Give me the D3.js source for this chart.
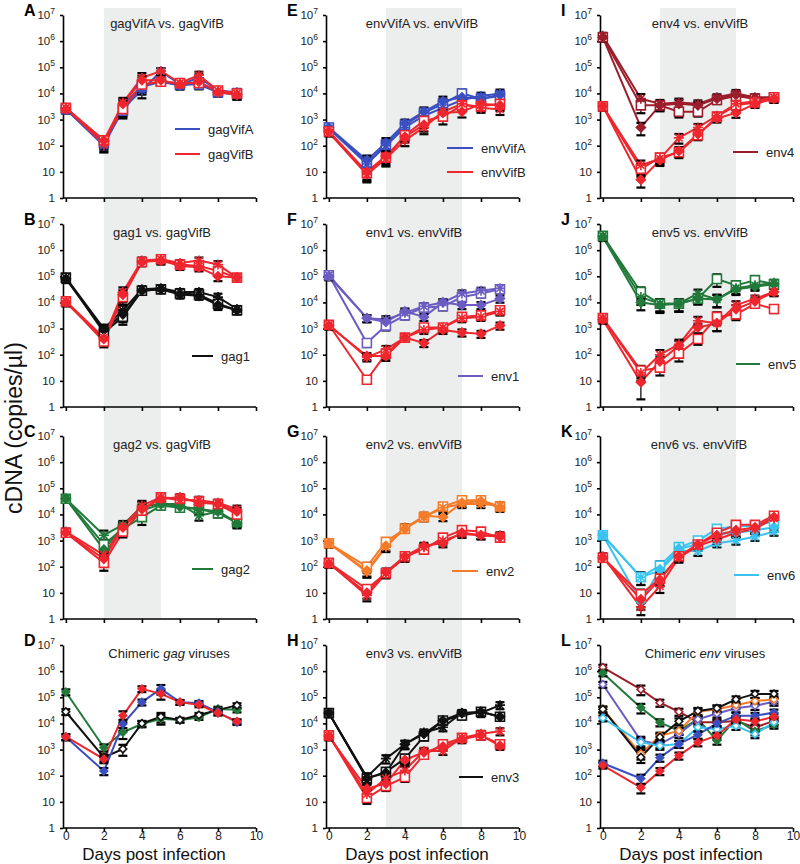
<!DOCTYPE html>
<html><head><meta charset="utf-8">
<script src="https://cdn.jsdelivr.net/npm/d3@7"></script>
<style>body{margin:0;background:#fff} svg{display:block;font-family:"Liberation Sans",Arial,sans-serif}</style>
</head><body><svg id="chart" width="800" height="864"></svg>
<script>
// ---------------- DATA ----------------
const days = [0, 2, 3, 4, 5, 6, 7, 8, 9];
const xTickValues = [0, 2, 4, 6, 8, 10];
const yTickValues = [1, 10, 1e2, 1e3, 1e4, 1e5, 1e6, 1e7];
const shadeStart = [2, 3, 3];
const shadeEnd = [5, 7, 7];
const yAxisTitle = "cDNA (copies/µl)";
const xAxisTitle = "Days post infection";

// replicate order in each group: [square, asterisk, diamond]
// Panel A
const aGagVifA = [
  [2.5e3, 1.3e2, 2.2e3, 1.8e4, 2.8e4, 2.2e4, 2.2e4, 1.1e4, 1.0e4],
  [2.5e3, 1.0e2, 2.8e3, 1.3e4, 7.1e4, 2.2e4, 4.0e4, 1.3e4, 1.1e4],
  [2.8e3, 1.4e2, 3.5e3, 2.0e4, 2.8e4, 2.0e4, 2.5e4, 1.1e4, 8.9e3]];
const aGagVifB = [
  [2.8e3, 1.6e2, 2.5e3, 2.2e4, 2.8e4, 2.5e4, 2.5e4, 1.3e4, 1.0e4],
  [2.8e3, 1.1e2, 4.5e3, 4.0e4, 7.1e4, 2.5e4, 5.0e4, 1.3e4, 1.0e4],
  [2.5e3, 1.6e2, 4.0e3, 3.2e4, 3.2e4, 2.2e4, 2.8e4, 1.1e4, 8.9e3]];
const aErr = [0.3, 0.45, 0.5, 0.5, 0.3, 0.3, 0.35, 0.3, 0.35];
// Panel B
const bGag1 = [
  [8.9e4, 7.1e2, 2.8e3, 2.8e4, 3.2e4, 2.2e4, 2.0e4, 8.9e3, 5.0e3],
  [8.9e4, 1.0e3, 5.0e3, 3.2e4, 3.5e4, 2.5e4, 2.5e4, 1.6e4, 5.6e3],
  [7.9e4, 8.9e2, 3.5e3, 2.8e4, 3.2e4, 2.0e4, 1.8e4, 7.9e3, 5.0e3]];
const bGagVifB = [
  [1.1e4, 3.2e2, 1.6e4, 3.5e5, 4.5e5, 2.8e5, 2.5e5, 1.6e5, 8.9e4],
  [1.1e4, 4.5e2, 2.5e4, 4.0e5, 4.5e5, 3.2e5, 4.0e5, 2.8e5, 8.9e4],
  [1.0e4, 4.0e2, 2.0e4, 3.5e5, 4.0e5, 2.5e5, 2.2e5, 1.0e5, 8.9e4]];
const bErr = [0.3, 0.4, 0.5, 0.3, 0.3, 0.3, 0.3, 0.35, 0.3];
// Panel C
const cGag2 = [
  [4.0e4, 7.1e2, 2.8e3, 7.9e3, 2.2e4, 1.8e4, 1.6e4, 1.1e4, 5.0e3],
  [4.0e4, 1.6e3, 4.0e3, 2.0e4, 2.5e4, 2.5e4, 8.9e3, 1.3e4, 5.0e3],
  [4.0e4, 4.5e2, 3.5e3, 1.4e4, 2.5e4, 2.0e4, 1.6e4, 1.3e4, 4.5e3]];
const cGagVifB = [
  [2.0e3, 1.4e2, 2.2e3, 1.4e4, 4.5e4, 4.0e4, 3.2e4, 2.5e4, 1.0e4],
  [2.2e3, 2.8e2, 3.5e3, 2.2e4, 4.5e4, 3.5e4, 3.5e4, 2.8e4, 1.6e4],
  [2.0e3, 2.0e2, 3.2e3, 1.6e4, 4.0e4, 4.5e4, 2.8e4, 2.5e4, 1.3e4]];
const cErr = [0.3, 0.5, 0.4, 0.5, 0.3, 0.3, 0.35, 0.3, 0.35];
// Panel D
const dGagVifA = [3.0e3, 1.5e2, 9.5e3, 6.5e4, 2.1e5, 6.5e4, 6.0e4, 2.7e4, 1.1e4];
const dGagVifB = [3.1e3, 4.3e2, 2.0e4, 2.1e5, 1.35e5, 6.5e4, 5.2e4, 2.5e4, 1.2e4];
const dGag1 = [2.8e4, 5.0e2, 1.05e3, 1.0e4, 1.8e4, 1.35e4, 2.1e4, 3.3e4, 4.9e4];
const dGag2 = [1.6e5, 1.2e3, 4.6e3, 9.5e3, 1.5e4, 1.35e4, 1.7e4, 3.6e4, 3.3e4];
const dErr = [0.25, 0.3, 0.45, 0.25, 0.4, 0.2, 0.2, 0.2, 0.2];
// Panel E
const eEnvVifA = [
  [5.0e2, 22, 1.1e2, 6.3e2, 1.8e3, 4.0e3, 1.0e4, 6.3e3, 7.9e3],
  [4.5e2, 20, 1.0e2, 5.0e2, 1.4e3, 2.8e3, 5.6e3, 7.9e3, 1.0e4],
  [5.0e2, 28, 1.3e2, 7.1e2, 2.0e3, 5.0e3, 7.1e3, 6.3e3, 8.9e3]];
const eEnvVifB = [
  [3.5e2, 8.9, 35, 2.5e2, 8.9e2, 1.3e3, 3.5e3, 3.2e3, 4.0e3],
  [3.2e2, 7.9, 32, 1.6e2, 5.0e2, 2.0e3, 4.0e3, 2.8e3, 2.5e3],
  [3.5e2, 10, 40, 2.2e2, 6.3e2, 1.8e3, 2.0e3, 4.0e3, 3.5e3]];
const eErr = [0.3, 0.5, 0.5, 0.4, 0.45, 0.5, 0.4, 0.35, 0.4];
// Panel F
const fEnv1 = [
  [1.1e5, 2.8e2, 1.3e3, 3.2e3, 6.3e3, 7.1e3, 1.6e4, 2.2e4, 3.2e4],
  [1.1e5, 2.5e3, 2.2e3, 4.0e3, 7.1e3, 1.0e4, 2.2e4, 2.8e4, 3.5e4],
  [1.0e5, 2.5e3, 1.8e3, 4.5e3, 2.8e3, 1.0e4, 7.9e3, 7.9e3, 1.4e4]];
const fEnvVifB = [
  [1.4e3, 11, 1.1e2, 4.5e2, 1.1e3, 1.1e3, 2.8e3, 3.2e3, 5.0e3],
  [1.4e3, 79, 1.6e2, 4.5e2, 8.9e2, 1.1e3, 2.5e3, 2.8e3, 4.5e3],
  [1.3e3, 89, 89, 4.5e2, 2.8e2, 8.9e2, 7.1e2, 6.3e2, 1.3e3]];
const fErr = [0.3, 0.3, 0.35, 0.3, 0.3, 0.3, 0.3, 0.3, 0.3];
// Panel G
const gEnv2 = [
  [7.9e2, 1.0e2, 8.9e2, 2.8e3, 7.9e3, 2.0e4, 3.5e4, 3.5e4, 2.0e4],
  [7.9e2, 63, 5.6e2, 3.2e3, 7.9e3, 1.8e4, 2.5e4, 2.5e4, 2.2e4],
  [7.9e2, 71, 6.3e2, 2.8e3, 8.9e3, 7.9e3, 2.8e4, 3.2e4, 1.8e4]];
const gEnvVifB = [
  [1.4e2, 14, 56, 2.5e2, 4.5e2, 1.3e3, 2.5e3, 2.2e3, 1.3e3],
  [1.4e2, 7.9, 56, 2.2e2, 5.6e2, 1.0e3, 1.8e3, 1.6e3, 1.6e3],
  [1.3e2, 10, 63, 2.5e2, 6.3e2, 7.9e2, 2.0e3, 1.6e3, 1.4e3]];
const gErr = [0.3, 0.4, 0.35, 0.3, 0.3, 0.3, 0.3, 0.3, 0.3];
// Panel H
const hEnv3 = [
  [2.5e4, 79, 1.4e2, 4.5e2, 3.2e3, 1.3e4, 2.0e4, 2.8e4, 1.8e4],
  [2.5e4, 89, 4.5e2, 1.6e3, 4.5e3, 7.1e3, 2.5e4, 2.5e4, 5.0e4],
  [2.5e4, 79, 1.3e2, 1.6e3, 4.0e3, 1.3e4, 2.5e4, 2.8e4, 1.8e4]];
const hEnvVifB = [
  [3.5e3, 14, 40, 89, 6.3e2, 1.6e3, 2.8e3, 3.5e3, 1.6e3],
  [3.5e3, 20, 79, 1.6e2, 8.9e2, 8.9e2, 2.8e3, 4.0e3, 5.0e3],
  [3.2e3, 32, 50, 4.0e2, 7.9e2, 1.3e3, 2.5e3, 3.5e3, 1.4e3]];
const hErr = [0.3, 0.4, 0.35, 0.35, 0.3, 0.3, 0.3, 0.3, 0.3];
// Panel I
const iEnv4 = [
  [1.4e6, 3.5e3, 3.5e3, 2.0e3, 2.0e3, 5.6e3, 7.9e3, 6.3e3, 7.1e3],
  [1.6e6, 6.3e3, 4.0e3, 4.5e3, 4.0e3, 7.1e3, 1.0e4, 7.1e3, 7.1e3],
  [1.4e6, 5.0e2, 3.5e3, 4.0e3, 3.5e3, 6.3e3, 8.9e3, 6.3e3, 6.3e3]];
const iEnvVifB = [
  [3.2e3, 13, 35, 56, 2.5e2, 1.3e3, 3.5e3, 4.5e3, 7.1e3],
  [3.2e3, 18, 32, 2.0e2, 5.0e2, 1.4e3, 4.0e3, 5.0e3, 7.1e3],
  [3.2e3, 5.0, 28, 63, 2.8e2, 1.1e3, 1.8e3, 4.0e3, 6.3e3]];
const iErr = [0.3, 0.5, 0.4, 0.4, 0.35, 0.3, 0.35, 0.3, 0.3];
// Panel J
const jEnv5 = [
  [3.5e6, 2.5e4, 8.9e3, 8.9e3, 1.4e4, 7.9e4, 4.5e4, 7.1e4, 5.0e4],
  [3.5e6, 1.6e4, 8.9e3, 8.9e3, 2.2e4, 1.3e4, 3.5e4, 4.5e4, 5.6e4],
  [3.2e6, 1.0e4, 7.9e3, 8.9e3, 1.4e4, 1.3e4, 3.2e4, 4.0e4, 5.0e4]];
const jEnvVifB = [
  [2.5e3, 25, 32, 1.1e2, 4.0e2, 2.8e3, 3.5e3, 8.9e3, 5.6e3],
  [2.5e3, 20, 1.0e2, 2.5e2, 2.0e3, 1.6e3, 7.9e3, 1.4e4, 2.5e4],
  [2.2e3, 8.9, 56, 2.2e2, 1.1e3, 1.6e3, 5.6e3, 1.1e4, 2.5e4]];
const jErr = [0.3, 0.5, 0.5, 0.5, 0.4, 0.5, 0.4, 0.3, 0.3];
const jEnvVifBDiamondErr = [0.3, 0.78, 0.5, 0.5, 0.4, 0.5, 0.4, 0.3, 0.3];
// Panel K
const kEnv6 = [
  [1.6e3, 40, 1.1e2, 5.6e2, 1.0e3, 2.8e3, 3.5e3, 3.5e3, 5.6e3],
  [1.6e3, 40, 71, 4.0e2, 4.0e2, 7.9e2, 1.0e3, 1.4e3, 2.2e3],
  [1.6e3, 4.5, 79, 5.0e2, 7.1e2, 1.8e3, 2.0e3, 2.5e3, 3.2e3]];
const kEnvVifB = [
  [2.2e2, 8.9, 35, 2.5e2, 7.1e2, 2.0e3, 4.0e3, 4.0e3, 8.9e3],
  [2.5e2, 2.8, 18, 2.2e2, 6.3e2, 1.1e3, 2.0e3, 2.8e3, 7.1e3],
  [2.2e2, 5.6, 32, 2.5e2, 7.1e2, 1.6e3, 2.5e3, 3.2e3, 7.9e3]];
const kErr = [0.3, 0.5, 0.45, 0.35, 0.35, 0.3, 0.3, 0.3, 0.3];
// Panel L
const lEnv4 = [1.4e6, 2.0e5, 6.2e4, 2.8e4, 1.1e4, 1.1e4, 1.25e4, 7.0e3, 1.25e4];
const lEnv5 = [8.5e5, 4.0e4, 1.1e4, 5.2e3, 1.45e4, 2.2e3, 1.45e4, 5.0e3, 9.0e3];
const lEnv1 = [3.1e5, 2.2e3, 1.6e3, 4.0e3, 1.45e4, 2.4e4, 3.8e4, 4.7e4, 6.8e4];
const lEnv2 = [3.5e4, 6.9e2, 3.4e3, 5.2e3, 2.8e4, 3.5e4, 5.0e4, 7.2e4, 8.3e4];
const lEnv3 = [3.5e4, 5.1e2, 3.0e3, 1.2e4, 3.0e4, 3.8e4, 8.3e4, 1.35e5, 1.35e5];
const lEnv6 = [1.6e4, 1.9e3, 1.4e3, 1.65e3, 7.1e3, 6.0e3, 8.1e3, 3.9e3, 1.1e4];
const lEnvVifA = [3.0e2, 78, 4.9e2, 1.65e3, 3.7e3, 1.0e4, 1.95e4, 1.95e4, 2.6e4];
const lEnvVifB = [2.5e2, 35, 1.5e2, 5.9e2, 1.9e3, 3.4e3, 1.45e4, 1.2e4, 1.8e4];
const lErr = [0.25, 0.4, 0.3, 0.3, 0.3, 0.3, 0.3, 0.3, 0.3];

// ---------------- STYLE / LAYOUT ----------------
const cBlue = "#3a4fc0", cRed = "#ee262d", cBlack = "#111111", cGreen = "#217a3a",
      cPurple = "#6a5cc2", cOrange = "#f47b2a", cDarkRed = "#9c1e2c", cCyan = "#38c3f0";
const colX = [63, 326, 600];
const rowY = [15, 224, 436, 645];
const plotW = 193, plotH = 183;
const repShapes = ["square", "star", "diamond"];

const panels = [
  {letter:"A", col:0, row:0, title:[{t:"gagVifA vs. gagVifB"}], tdx:104,
   groups:[{color:cBlue, reps:aGagVifA}, {color:cRed, reps:aGagVifB}], err:aErr,
   legend:{dx:112, len:25, items:[{label:"gagVifA", color:cBlue, dy:114}, {label:"gagVifB", color:cRed, dy:139}]}},
  {letter:"B", col:0, row:1, title:[{t:"gag1 vs. gagVifB"}], tdx:99,
   groups:[{color:cBlack, reps:bGag1}, {color:cRed, reps:bGagVifB}], err:bErr,
   legend:{dx:129, len:21, items:[{label:"gag1", color:cBlack, dy:132}]}},
  {letter:"C", col:0, row:2, title:[{t:"gag2 vs. gagVifB"}], tdx:99,
   groups:[{color:cGreen, reps:cGag2}, {color:cRed, reps:cGagVifB}], err:cErr,
   legend:{dx:129, len:21, items:[{label:"gag2", color:cGreen, dy:133}]}},
  {letter:"D", col:0, row:3, title:[{t:"Chimeric "}, {t:"gag", i:true}, {t:" viruses"}], tdx:106,
   groups:[{color:cGreen, reps:[dGag2], single:true, open:false},
           {color:cBlack, reps:[dGag1], single:true, open:true},
           {color:cBlue, reps:[dGagVifA], single:true, open:false},
           {color:cRed, reps:[dGagVifB], single:true, open:false}], err:dErr},
  {letter:"E", col:1, row:0, title:[{t:"envVifA vs. envVifB"}], tdx:96,
   groups:[{color:cBlue, reps:eEnvVifA}, {color:cRed, reps:eEnvVifB}], err:eErr,
   legend:{dx:121, len:26, items:[{label:"envVifA", color:cBlue, dy:133}, {label:"envVifB", color:cRed, dy:157}]}},
  {letter:"F", col:1, row:1, title:[{t:"env1 vs. envVifB"}], tdx:88,
   groups:[{color:cPurple, reps:fEnv1}, {color:cRed, reps:fEnvVifB}], err:fErr,
   legend:{dx:132, len:25, items:[{label:"env1", color:cPurple, dy:152}]}},
  {letter:"G", col:1, row:2, title:[{t:"env2 vs. envVifB"}], tdx:88,
   groups:[{color:cOrange, reps:gEnv2}, {color:cRed, reps:gEnvVifB}], err:gErr,
   legend:{dx:126, len:26, items:[{label:"env2", color:cOrange, dy:135}]}},
  {letter:"H", col:1, row:3, title:[{t:"env3 vs. envVifB"}], tdx:88,
   groups:[{color:cBlack, reps:hEnv3}, {color:cRed, reps:hEnvVifB}], err:hErr,
   legend:{dx:133, len:24, items:[{label:"env3", color:cBlack, dy:132}]}},
  {letter:"I", col:2, row:0, title:[{t:"env4 vs. envVifB"}], tdx:100,
   groups:[{color:cDarkRed, reps:iEnv4}, {color:cRed, reps:iEnvVifB}], err:iErr,
   legend:{dx:133, len:25, items:[{label:"env4", color:cDarkRed, dy:137}]}},
  {letter:"J", col:2, row:1, title:[{t:"env5 vs. envVifB"}], tdx:100,
   groups:[{color:cGreen, reps:jEnv5}, {color:cRed, reps:jEnvVifB, errOverride:{2:jEnvVifBDiamondErr}}], err:jErr,
   legend:{dx:136, len:24, items:[{label:"env5", color:cGreen, dy:140}]}},
  {letter:"K", col:2, row:2, title:[{t:"env6 vs. envVifB"}], tdx:99,
   groups:[{color:cCyan, reps:kEnv6}, {color:cRed, reps:kEnvVifB}], err:kErr,
   legend:{dx:134, len:25, items:[{label:"env6", color:cCyan, dy:139}]}},
  {letter:"L", col:2, row:3, title:[{t:"Chimeric "}, {t:"env", i:true}, {t:" viruses"}], tdx:105,
   groups:[{color:cDarkRed, reps:[lEnv4], single:true, open:true},
           {color:cGreen, reps:[lEnv5], single:true, open:false},
           {color:cPurple, reps:[lEnv1], single:true, open:true},
           {color:cOrange, reps:[lEnv2], single:true, open:true},
           {color:cBlack, reps:[lEnv3], single:true, open:true},
           {color:cCyan, reps:[lEnv6], single:true, open:true},
           {color:cBlue, reps:[lEnvVifA], single:true, open:false},
           {color:cRed, reps:[lEnvVifB], single:true, open:false}], err:lErr}
];

// ---------------- DRAW ----------------
const svg = d3.select("#chart");
const xScale = col => d3.scaleLinear().domain([-0.15, 10]).range([colX[col], colX[col] + plotW]);
const yScale = row => d3.scaleLog().domain([1, 1e7]).range([rowY[row] + plotH, rowY[row]]);

// shaded windows
const shadeBottomRow = [2, 3, 2];
[0, 1, 2].forEach(col => {
  const x = xScale(col);
  svg.append("rect")
    .attr("x", x(shadeStart[col])).attr("width", x(shadeEnd[col]) - x(shadeStart[col]))
    .attr("y", 8).attr("height", rowY[shadeBottomRow[col]] + plotH - 8)
    .attr("fill", "#eceeed");
});

function markerPath(shape, r) {
  if (shape === "diamond") return `M0,${-r}L${r},0L0,${r}L${-r},0Z`;
  if (shape === "star") { const a = r * 0.72; return `M${-r},0L${r},0M0,${-r}L0,${r}M${-a},${-a}L${a},${a}M${-a},${a}L${a},${-a}`; }
  return `M${-r},${-r}H${r}V${r}H${-r}Z`;
}

panels.forEach(p => {
  const x = xScale(p.col), y = yScale(p.row);
  const g = svg.append("g");
  const ax = colX[p.col], top = rowY[p.row], bottom = top + plotH;

  // axes
  const yAxis = d3.axisLeft(y).tickValues(yTickValues).tickSize(3).tickSizeOuter(0).tickFormat("");
  const ya = g.append("g").attr("transform", `translate(${ax},0)`).call(yAxis);
  ya.selectAll("path,line").attr("stroke", "#000").attr("stroke-width", 1.6);
  yTickValues.forEach(v => {
    const e = Math.round(Math.log10(v));
    const t = g.append("text").attr("x", ax - 8).attr("y", y(v) + 4)
      .attr("text-anchor", "end").attr("font-size", 11.5).attr("fill", "#222");
    if (e === 0) t.text("1");
    else if (e === 1) t.text("10");
    else { t.append("tspan").text("10"); t.append("tspan").attr("dy", -5).attr("font-size", 8.5).text(e); }
  });
  const xAxis = d3.axisBottom(x).tickValues(xTickValues).tickSize(4).tickSizeOuter(0);
  if (p.row !== 3) xAxis.tickFormat("");
  const xa = g.append("g").attr("transform", `translate(0,${bottom})`).call(xAxis);
  xa.select("path.domain").attr("d", `M${ax},0H${ax + plotW}`);
  xa.selectAll("path,line").attr("stroke", "#000").attr("stroke-width", 1.6);
  xa.selectAll("text").attr("font-size", 12).attr("fill", "#222")
    .attr("font-family", "Liberation Sans, Arial, sans-serif").attr("y", 3).attr("dy", "0.71em");
  if (p.row === 3) {
    g.append("text").attr("x", ax + 91).attr("y", bottom + 32).attr("text-anchor", "middle")
      .attr("font-size", 17).attr("fill", "#111").text(xAxisTitle);
  }

  // letter + title
  g.append("text").attr("x", ax - 39).attr("y", top + 1).attr("font-size", 16).attr("font-weight", "bold").text(p.letter);
  const tt = g.append("text").attr("x", ax + p.tdx).attr("y", top + 13).attr("text-anchor", "middle")
    .attr("font-size", 13).attr("fill", "#222");
  p.title.forEach(s => { const sp = tt.append("tspan").text(s.t); if (s.i) sp.attr("font-style", "italic"); });

  // legend
  if (p.legend) {
    p.legend.items.forEach(it => {
      g.append("line").attr("x1", ax + p.legend.dx).attr("x2", ax + p.legend.dx + p.legend.len)
        .attr("y1", top + it.dy).attr("y2", top + it.dy).attr("stroke", it.color).attr("stroke-width", 2);
      g.append("text").attr("x", ax + p.legend.dx + p.legend.len + 8).attr("y", top + it.dy + 5)
        .attr("font-size", 13).attr("fill", "#222").text(it.label);
    });
  }

  const line = d3.line().x((d, i) => x(days[i])).y(d => y(d));
  // lines
  p.groups.forEach(gr => {
    gr.reps.forEach(vals => {
      g.append("path").attr("d", line(vals)).attr("fill", "none")
        .attr("stroke", gr.color).attr("stroke-width", 2).attr("stroke-linejoin", "round");
    });
  });
  // error bars
  p.groups.forEach(gr => {
    gr.reps.forEach((vals, ri) => {
      const err = (gr.errOverride && gr.errOverride[ri]) || p.err;
      vals.forEach((v, i) => {
        const lo = Math.max(1, v * (1 - err[i])), hi = v * (1 + err[i]);
        const cx = x(days[i]);
        g.append("line").attr("x1", cx).attr("x2", cx).attr("y1", y(lo)).attr("y2", y(hi))
          .attr("stroke", "#000").attr("stroke-width", 1.2);
        [lo, hi].forEach(b => {
          if (b <= 1) return;
          g.append("line").attr("x1", cx - 4.5).attr("x2", cx + 4.5).attr("y1", y(b)).attr("y2", y(b))
            .attr("stroke", "#000").attr("stroke-width", 2.2);
        });
      });
    });
  });
  // markers
  p.groups.forEach(gr => {
    gr.reps.forEach((vals, ri) => {
      const shape = gr.single ? "diamond" : repShapes[ri];
      const r = gr.single ? 3.8 : (shape === "square" ? 4.5 : shape === "star" ? 5 : 4.5);
      vals.forEach((v, i) => {
        const m = g.append("path").attr("transform", `translate(${x(days[i])},${y(v)})`)
          .attr("d", markerPath(shape, r)).attr("stroke", gr.color).attr("stroke-width", 1.6);
        if (shape === "square") m.attr("fill", "#fff");
        else if (shape === "star") m.attr("fill", "none");
        else m.attr("fill", gr.open ? "#fff" : gr.color);
      });
    });
  });
});

// y-axis title
svg.append("text").attr("transform", "translate(22,428) rotate(-90)").attr("text-anchor", "middle")
  .attr("font-size", 23).attr("fill", "#111").text(yAxisTitle);
</script></body></html>
